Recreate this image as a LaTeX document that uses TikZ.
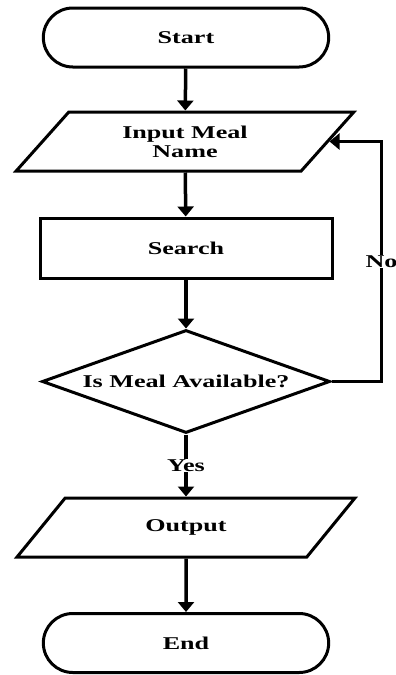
\documentclass[tikz,border=0pt]{standalone}
\usepackage{fontspec}
\setmainfont{Liberation Serif}[FakeStretch=1.45]
\usetikzlibrary{arrows.meta,shapes.geometric,shapes.misc}
\tikzset{
	term/.style={draw, line width=3pt, rounded rectangle, minimum width=292pt, minimum height=59pt},
	io/.style={draw, line width=3pt, trapezium, trapezium left angle=52, trapezium right angle=128, trapezium stretches=true, minimum width=338pt, minimum height=59pt, align=center},
	proc/.style={draw, line width=3pt, rectangle, minimum width=292pt, minimum height=60pt},
	decide/.style={draw, line width=3pt, diamond, aspect=2.8, inner sep=0pt, minimum width=288pt, minimum height=103pt},
	flow/.style={line width=3.5pt, -{Triangle[length=10pt,width=16pt]}}
}
\begin{document}
\begin{tikzpicture}[x=1pt,y=-1pt, font=\fontsize{18}{19}\selectfont\bfseries]
			\useasboundingbox (0,0) rectangle (396,675);
			\node[term] (start) at (186,37.5) {Start};
			\node[io] (inp) at (185,141.5) {Input Meal\\Name};
			\node[proc] (search) at (186,248) {Search};
			\node[decide] (avail) at (186,381.5) {Is Meal Available?};
			\node[io] (out) at (186,527.5) {Output};
			\node[term] (end) at (186,643) {End};
			\draw[flow] (start) -- (inp);
			\draw[flow] (inp) -- (search);
			\draw[flow] (search) -- (avail);
			\draw[flow] (avail) -- node[fill=white, inner sep=1pt]{Yes} (out);
			\draw[flow] (out) -- (end);
			\draw[flow] (avail.east) -- ++(50,0) |- (inp.east) node[pos=0.25, fill=white, inner sep=1pt]{No};
		\end{tikzpicture}
\end{document}
